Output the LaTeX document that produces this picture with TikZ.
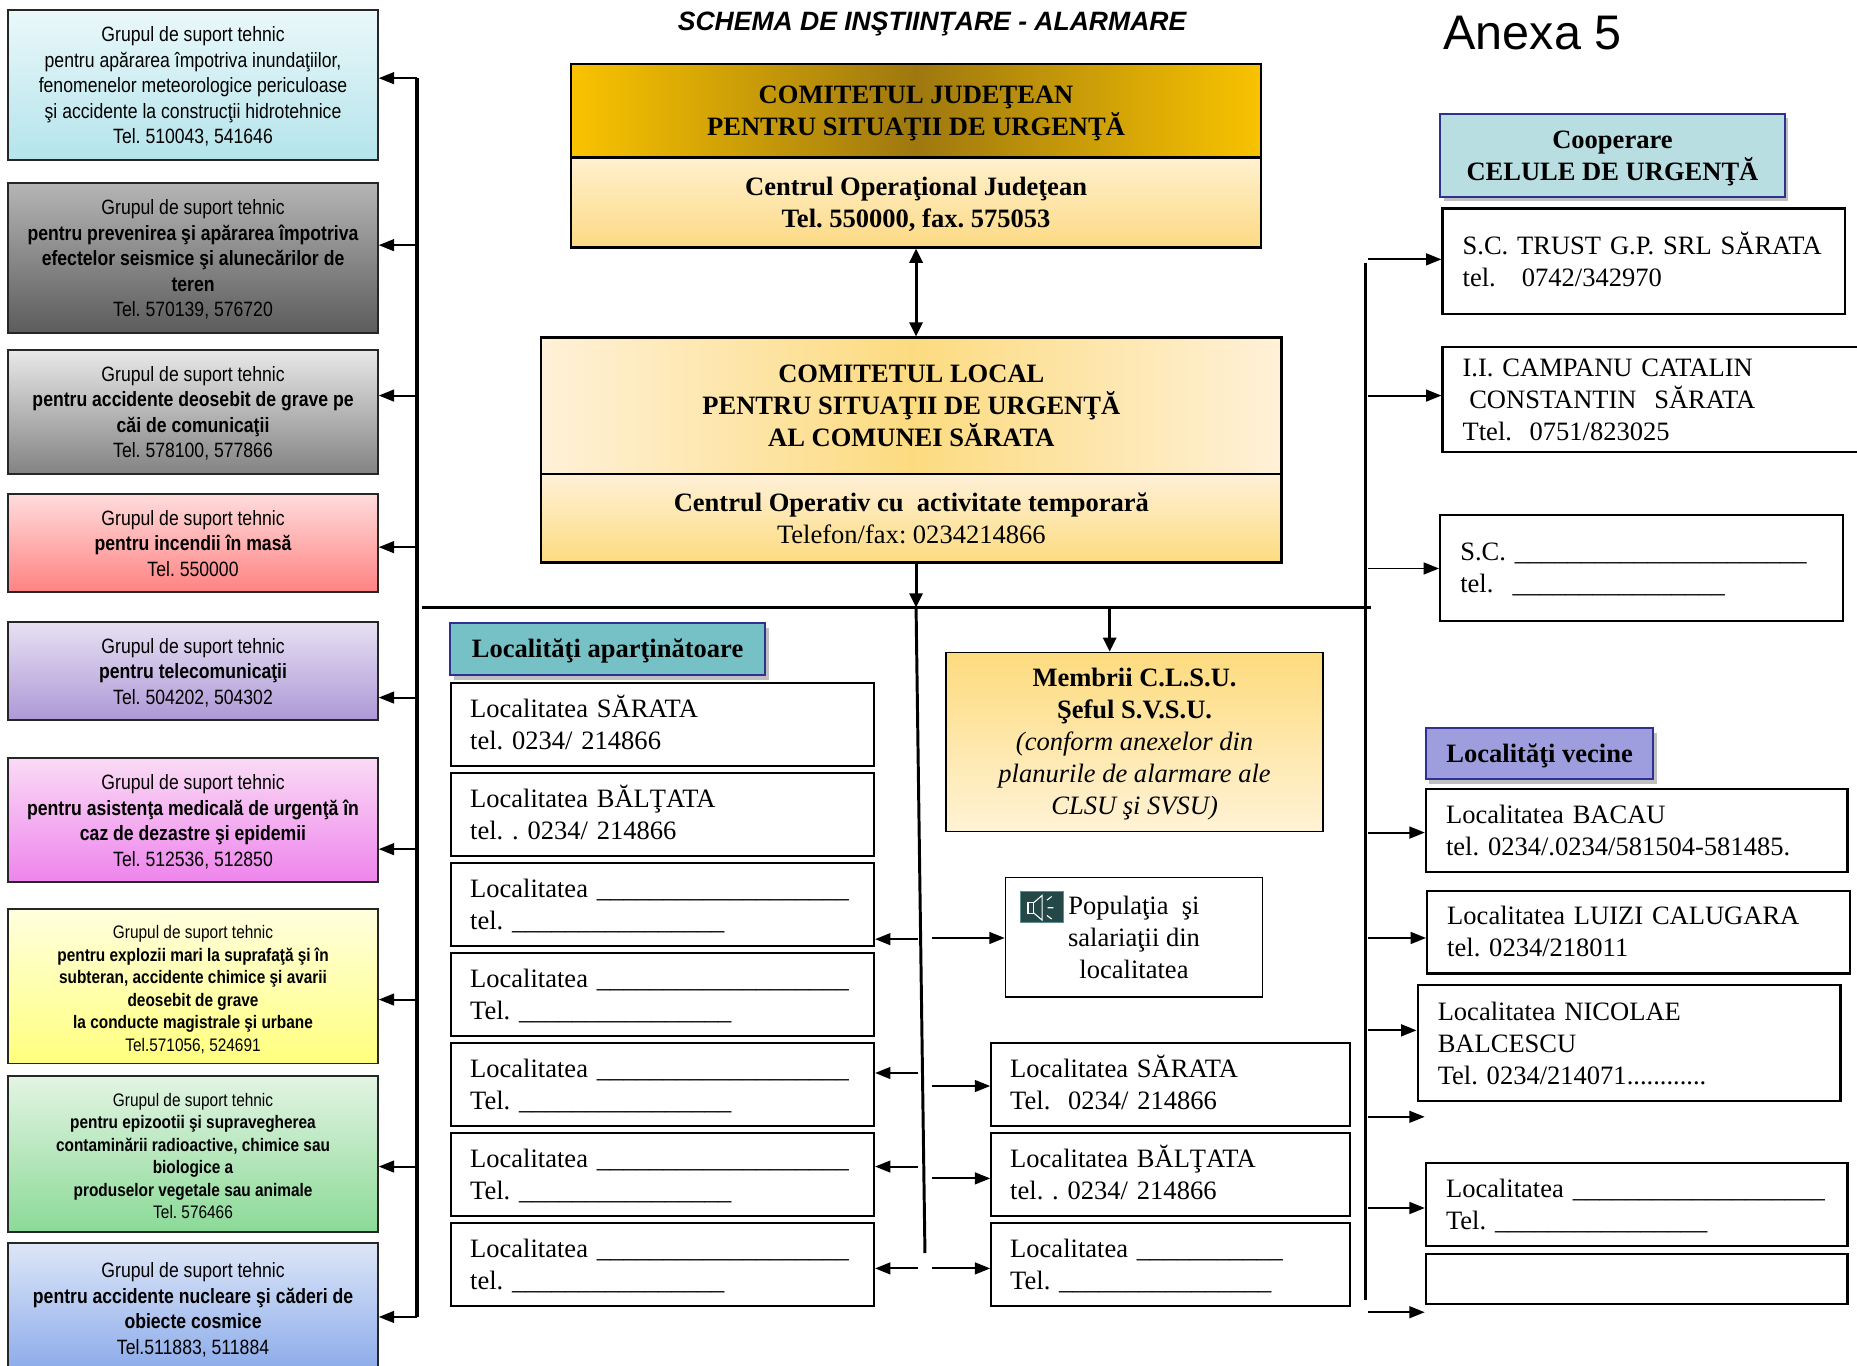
\documentclass[tikz,border=0pt]{standalone}
\usepackage{fontspec}
\setmainfont{Liberation Serif}
\newfontfamily\arialfont{Liberation Sans}
\newfontfamily\arialnarrow[FakeStretch=0.85]{Liberation Sans}
\usetikzlibrary{arrows.meta,shadows}
\ExplSyntaxOn
\cs_new:Npn \unders #1 {\prg_replicate:nn{#1}{\_}}
\ExplSyntaxOff
\newcommand\sT{\rule{0pt}{21pt}}
\newcommand\sB{\rule[-6pt]{0pt}{6pt}}
\newcommand\aT{\rule{0pt}{16pt}}
\newcommand\aB{\rule[-3pt]{0pt}{3pt}}
\newcommand\bT{\rule{0pt}{16.5pt}}
\newcommand\bB{\rule[-1.5pt]{0pt}{1.5pt}}
\definecolor{g1t}{HTML}{EAF8FA}\definecolor{g1b}{HTML}{B4E4EB}
\definecolor{g2t}{HTML}{B5B5B5}\definecolor{g2b}{HTML}{5C5C5C}
\definecolor{g3t}{HTML}{E8E8E8}\definecolor{g3b}{HTML}{838383}
\definecolor{g4t}{HTML}{FFDCDC}\definecolor{g4b}{HTML}{FF8282}
\definecolor{g5t}{HTML}{E7E1F3}\definecolor{g5b}{HTML}{AD98D6}
\definecolor{g6t}{HTML}{FADBF5}\definecolor{g6b}{HTML}{EE84EC}
\definecolor{g7t}{HTML}{FFFFDE}\definecolor{g7b}{HTML}{FFFF7E}
\definecolor{g8t}{HTML}{E3F4E3}\definecolor{g8b}{HTML}{8BDA97}
\definecolor{g9t}{HTML}{DDE6F7}\definecolor{g9b}{HTML}{8AAAEA}
\definecolor{jgold}{HTML}{F9C300}\definecolor{jdark}{HTML}{9E780F}
\definecolor{jct}{HTML}{FFF1CF}\definecolor{jcb}{HTML}{FCD983}
\definecolor{lcream}{HTML}{FFF1D8}\definecolor{lyel}{HTML}{FCDB80}
\definecolor{memt}{HTML}{FDDB7E}\definecolor{memb}{HTML}{FFF3D6}
\definecolor{tealh}{HTML}{76C1C5}\definecolor{coop}{HTML}{B9DEE2}
\definecolor{vec}{HTML}{9E9EDE}\definecolor{hblue}{HTML}{2E3192}
\definecolor{spkf}{HTML}{244848}\definecolor{spkd}{HTML}{5E8E8E}
\begin{document}
\frenchspacing
\begin{tikzpicture}[x=1pt,y=-1pt,
  grp/.style={draw=black!85, line width=1.6pt, minimum width=312pt, inner sep=0pt, align=center,
    font=\arialnarrow\fontsize{17.5}{21.5}\selectfont},
  grps/.style={grp, font=\arialnarrow\fontsize{15.3}{19}\selectfont},
  tbox/.style={draw=black, line width=1.8pt, inner ysep=0pt, align=left, font=\fontsize{22.4}{27}\selectfont},
  cbox/.style={draw=black, line width=1.8pt, inner sep=0pt, align=center, font=\fontsize{22.4}{27}\selectfont},
  hdr/.style={draw=hblue, line width=1.8pt, inner sep=0pt, align=center, font=\bfseries\fontsize{22.4}{27}\selectfont,
    drop shadow={shadow xshift=3pt, shadow yshift=-4pt, fill=black, opacity=0.25}},
  branch/.style={line width=1.6pt, -{Triangle[length=13pt,width=10pt]}},
  trunk/.style={line width=3pt},
  vline/.style={line width=2.5pt},
]
\useasboundingbox (0,0) rectangle (1568,1152.6);
\clip (0,0) rectangle (1568,1152.6);
\fill[white] (0,0) rectangle (1568,1152.6);

% titles
\node[font=\arialfont\bfseries\itshape\fontsize{22.4}{26}\selectfont] (title) at (787,20) {SCHEMA DE INŞTIINŢARE - ALARMARE};
\node[font=\arialfont\fontsize{41}{48}\selectfont] (anexa) at (1294,28) {Anexa 5};

% left support groups
\node[grp, minimum height=126.5pt, top color=g1t, bottom color=g1b] (g1) at (163,71.75)
 {\aT Grupul de suport tehnic\\pentru apărarea împotriva inundaţiilor,\\fenomenelor meteorologice periculoase\\şi accidente la construcţii hidrotehnice\\Tel. 510043, 541646\aB};
\node[grp, minimum height=126.5pt, top color=g2t, bottom color=g2b] (g2) at (163,217.75)
 {\aT Grupul de suport tehnic\\\textbf{pentru prevenirea şi apărarea împotriva}\\\textbf{efectelor seismice şi alunecărilor de}\\\textbf{teren}\\Tel. 570139, 576720\aB};
\node[grp, minimum height=104.5pt, top color=g3t, bottom color=g3b] (g3) at (163,347.75)
 {\aT Grupul de suport tehnic\\\textbf{pentru accidente deosebit de grave pe}\\\textbf{căi de comunicaţii}\\Tel. 578100, 577866\aB};
\node[grp, minimum height=83pt, top color=g4t, bottom color=g4b] (g4) at (163,458.5)
 {\aT Grupul de suport tehnic\\\textbf{pentru incendii în masă}\\Tel. 550000\aB};
\node[grp, minimum height=83pt, top color=g5t, bottom color=g5b] (g5) at (163,566.5)
 {\aT Grupul de suport tehnic\\\textbf{pentru telecomunicaţii}\\Tel. 504202, 504302\aB};
\node[grp, minimum height=105pt, top color=g6t, bottom color=g6b] (g6) at (163,692.5)
 {\aT Grupul de suport tehnic\\\textbf{pentru asistenţa medicală de urgenţă în}\\\textbf{caz de dezastre şi epidemii}\\Tel. 512536, 512850\aB};
\node[grps, minimum height=130.5pt, top color=g7t, bottom color=g7b] (g7) at (163,832.75)
 {\bT Grupul de suport tehnic\\\textbf{pentru explozii mari la suprafaţă şi în}\\\textbf{subteran, accidente chimice şi avarii}\\\textbf{deosebit de grave}\\\textbf{la conducte magistrale şi urbane}\\Tel.571056, 524691\bB};
\node[grps, minimum height=131.5pt, top color=g8t, bottom color=g8b] (g8) at (163,974.25)
 {\bT Grupul de suport tehnic\\\textbf{pentru epizootii şi supravegherea}\\\textbf{contaminării radioactive, chimice sau}\\\textbf{biologice a}\\\textbf{produselor vegetale sau animale}\\Tel. 576466\bB};
\node[grp, minimum height=110.5pt, top color=g9t, bottom color=g9b] (g9) at (163,1104.75)
 {\aT Grupul de suport tehnic\\\textbf{pentru accidente nucleare şi căderi de}\\\textbf{obiecte cosmice}\\Tel.511883, 511884\aB};

% left trunk
\coordinate (lt1) at (352,66);   \coordinate (lt2) at (352,207);
\coordinate (lt3) at (352,334);  \coordinate (lt4) at (352,462);
\coordinate (lt5) at (352,589);  \coordinate (lt6) at (352,717);
\coordinate (lt7) at (352,844);  \coordinate (lt8) at (352,985);
\coordinate (lt9) at (352,1112);
\draw[trunk] (lt1) -- (lt9);
\foreach \i in {1,...,9} \draw[branch] (lt\i) -- (lt\i -| g\i.east);

% county committee
\node[cbox, font=\bfseries\fontsize{22.4}{27}\selectfont, minimum width=583pt, minimum height=79pt,
      left color=jgold, right color=jgold, middle color=jdark] (judA) at (773.5,93.5)
 {\sT COMITETUL JUDEŢEAN\\PENTRU SITUAŢII DE URGENŢĂ\sB};
\node[cbox, font=\bfseries\fontsize{22.4}{27}\selectfont, minimum width=583pt, minimum height=76pt,
      top color=jct, bottom color=jcb] (judB) at (773.5,171)
 {\sT Centrul Operaţional Judeţean\\Tel. 550000, fax. 575053\sB};

% local committee
\node[cbox, font=\bfseries\fontsize{22.4}{27}\selectfont, minimum width=625pt, minimum height=115pt,
      left color=lcream, right color=lcream, middle color=lyel] (locA) at (769.5,342.5)
 {\sT COMITETUL LOCAL\\PENTRU SITUAŢII DE URGENŢĂ\\AL COMUNEI SĂRATA\sB};
\node[cbox, minimum width=625pt, minimum height=75pt, top color=lcream, bottom color=lyel] (locB) at (769.5,437.5)
 {\sT\textbf{Centrul Operativ cu\ \ activitate temporară}\\Telefon/fax: 0234214866\sB};

\draw[vline, {Triangle[length=12pt,width=11pt]}-{Triangle[length=12pt,width=11pt]}] (judB.south) -- (judB.south |- locA.north);

% main bar
\coordinate (barL) at (356,513); \coordinate (barR) at (1158,513);
\coordinate (bc) at (773.5,513); \coordinate (bm) at (937,513);
\draw[trunk] (barL) -- (barR);
\draw[vline, -{Triangle[length=12pt,width=11pt]}] (locB.south -| judB.south) -- (bc);

% members
\node[cbox, line width=1.4pt, minimum width=318pt, minimum height=151pt, top color=memt, bottom color=memb] (mem) at (958,626.5)
 {\sT\textbf{Membrii C.L.S.U.}\\\textbf{Şeful S.V.S.U.}\\\textit{(conform anexelor din}\\\textit{planurile de alarmare ale}\\\textit{CLSU şi SVSU)}\sB};
\draw[vline, -{Triangle[length=12pt,width=11pt]}] (bm) -- (bm |- mem.north);

% central line
\coordinate (cend) at (781,1058);
\draw[vline] (bc) -- (cend);

% header localitati apartinatoare
\node[hdr, fill=tealh, minimum width=266pt, minimum height=44pt] (hloc) at (513,548) {\sT Localităţi aparţinătoare\sB};

% left column
\node[tbox, minimum width=357pt, text width=325pt, inner xsep=16pt, minimum height=70pt] (L1) at (559.5,612)
 {\sT Localitatea SĂRATA\\tel. 0234/ 214866\sB};
\node[tbox, minimum width=357pt, text width=325pt, inner xsep=16pt, minimum height=70pt] (L2) at (559.5,688)
 {\sT Localitatea BĂLŢATA\\tel. . 0234/ 214866\sB};
\node[tbox, minimum width=357pt, text width=325pt, inner xsep=16pt, minimum height=70pt] (L3) at (559.5,764)
 {\sT Localitatea \unders{19}\\tel. \unders{16}\sB};
\node[tbox, minimum width=357pt, text width=325pt, inner xsep=16pt, minimum height=70pt] (L4) at (559.5,840)
 {\sT Localitatea \unders{19}\\Tel. \unders{16}\sB};
\node[tbox, minimum width=357pt, text width=325pt, inner xsep=16pt, minimum height=70pt] (L5) at (559.5,916)
 {\sT Localitatea \unders{19}\\Tel. \unders{16}\sB};
\node[tbox, minimum width=357pt, text width=325pt, inner xsep=16pt, minimum height=70pt] (L6) at (559.5,992)
 {\sT Localitatea \unders{19}\\Tel. \unders{16}\sB};
\node[tbox, minimum width=357pt, text width=325pt, inner xsep=16pt, minimum height=70pt] (L7) at (559.5,1068)
 {\sT Localitatea \unders{19}\\tel. \unders{16}\sB};

% population box
\node[cbox, line width=1.4pt, minimum width=217pt, minimum height=101pt] (pop) at (957.5,791.5)
 {\sT Populaţia\ \ şi\\salariaţii din\\localitatea\sB};
\fill[spkf] (862,753) rectangle (898,779);
\draw[spkd, line width=1pt] (862,753) rectangle (898,779);
\draw[white, line width=0.9pt] (868,762) rectangle (873,771);
\draw[white, line width=0.9pt] (873,762) -- (880,756) -- (880,777) -- (873,771);
\draw[white, line width=0.9pt] (884,760) -- (888,757) (884.5,766.5) -- (889.5,766.5) (884,773) -- (888,776);

% middle column
\node[tbox, minimum width=303pt, text width=271pt, inner xsep=16pt, minimum height=70pt] (M1) at (988.5,916)
 {\sT Localitatea SĂRATA\\Tel.\ \ 0234/ 214866\sB};
\node[tbox, minimum width=303pt, text width=271pt, inner xsep=16pt, minimum height=70pt] (M2) at (988.5,992)
 {\sT Localitatea BĂLŢATA\\tel. . 0234/ 214866\sB};
\node[tbox, minimum width=303pt, text width=271pt, inner xsep=16pt, minimum height=70pt] (M3) at (988.5,1068)
 {\sT Localitatea \unders{11}\\Tel. \unders{16}\sB};

% arrows from central line
\coordinate (la1) at (775,793);  \coordinate (la2) at (775,906);
\coordinate (la3) at (775,985);  \coordinate (la4) at (775,1071);
\draw[branch] (la1) -- (la1 -| L3.east);
\draw[branch] (la2) -- (la2 -| L5.east);
\draw[branch] (la3) -- (la3 -| L6.east);
\draw[branch] (la4) -- (la4 -| L7.east);
\coordinate (ra1) at (787,792);  \coordinate (ra2) at (787,917);
\coordinate (ra3) at (787,995);  \coordinate (ra4) at (787,1071);
\draw[branch] (ra1) -- (ra1 -| pop.west);
\draw[branch] (ra2) -- (ra2 -| M1.west);
\draw[branch] (ra3) -- (ra3 -| M2.west);
\draw[branch] (ra4) -- (ra4 -| M3.west);

% right side
\node[hdr, fill=coop, minimum width=291pt, minimum height=70pt] (hcoop) at (1361.5,131) {\sT Cooperare\\CELULE DE URGENŢĂ\sB};
\node[tbox, minimum width=340pt, text width=306pt, inner xsep=17pt, minimum height=89pt] (R1) at (1388,220.5)
 {\sT\mbox{S.C. TRUST G.P. SRL SĂRATA}\\\makebox[50pt][l]{tel.}0742/342970\sB};
\node[tbox, minimum width=357pt, text width=323pt, inner xsep=17pt, minimum height=89pt] (R2) at (1396.5,337.5)
 {\sT I.I. CAMPANU CATALIN\\\hspace*{5.6pt}CONSTANTIN\ \ SĂRATA\\Ttel.\ \ 0751/823025\sB};
\node[tbox, minimum width=340pt, text width=306pt, inner xsep=17pt, minimum height=89pt] (R3) at (1386,479.5)
 {\sT S.C. \unders{22}\\\makebox[44.3pt][l]{tel.}\unders{16}\sB};

\node[hdr, fill=vec, minimum width=192pt, minimum height=43pt] (hvec) at (1300,636.5) {\sT Localităţi vecine\sB};
\node[tbox, minimum width=356pt, text width=322pt, inner xsep=17pt, minimum height=70pt] (V1) at (1382,701)
 {\sT Localitatea BACAU\\tel. 0234/.0234/581504-581485.\sB};
\node[tbox, minimum width=357pt, text width=323pt, inner xsep=17pt, minimum height=70pt] (V2) at (1383.5,787)
 {\sT Localitatea LUIZI CALUGARA\\tel. 0234/218011\sB};
\node[tbox, minimum width=357pt, text width=323pt, inner xsep=17pt, minimum height=98pt] (V3) at (1375.5,881)
 {\sT Localitatea NICOLAE\\BALCESCU\\Tel. 0234/214071............\sB};
\node[tbox, minimum width=356pt, text width=322pt, inner xsep=17pt, minimum height=70pt] (V4) at (1382,1017)
 {\sT Localitatea \unders{19}\\Tel. \unders{16}\sB};
\node[tbox, minimum width=356pt, minimum height=42pt] (V5) at (1382,1080) {};

% right trunk
\coordinate (rt0) at (1153,222); \coordinate (rt1) at (1153,1098);
\draw[trunk] (rt0) -- (rt1);
\coordinate (rb1) at (1155,219);  \coordinate (rb2) at (1155,334);
\coordinate (rb3) at (1155,480);  \coordinate (rb4) at (1155,703);
\coordinate (rb5) at (1155,792);  \coordinate (rb6) at (1155,870);
\coordinate (rb7) at (1155,943);  \coordinate (rb8) at (1155,1020);
\coordinate (rb9) at (1155,1108);
\coordinate (fe7) at (1203,943);  \coordinate (fe9) at (1203,1108);
\draw[branch] (rb1) -- (rb1 -| R1.west);
\draw[branch] (rb2) -- (rb2 -| R2.west);
\draw[branch] (rb3) -- (rb3 -| R3.west);
\draw[branch] (rb4) -- (rb4 -| V1.west);
\draw[branch] (rb5) -- (rb5 -| V2.west);
\draw[branch] (rb6) -- (rb6 -| V3.west);
\draw[branch] (rb7) -- (fe7);
\draw[branch] (rb8) -- (rb8 -| V4.west);
\draw[branch] (rb9) -- (fe9);
\end{tikzpicture}
\end{document}
